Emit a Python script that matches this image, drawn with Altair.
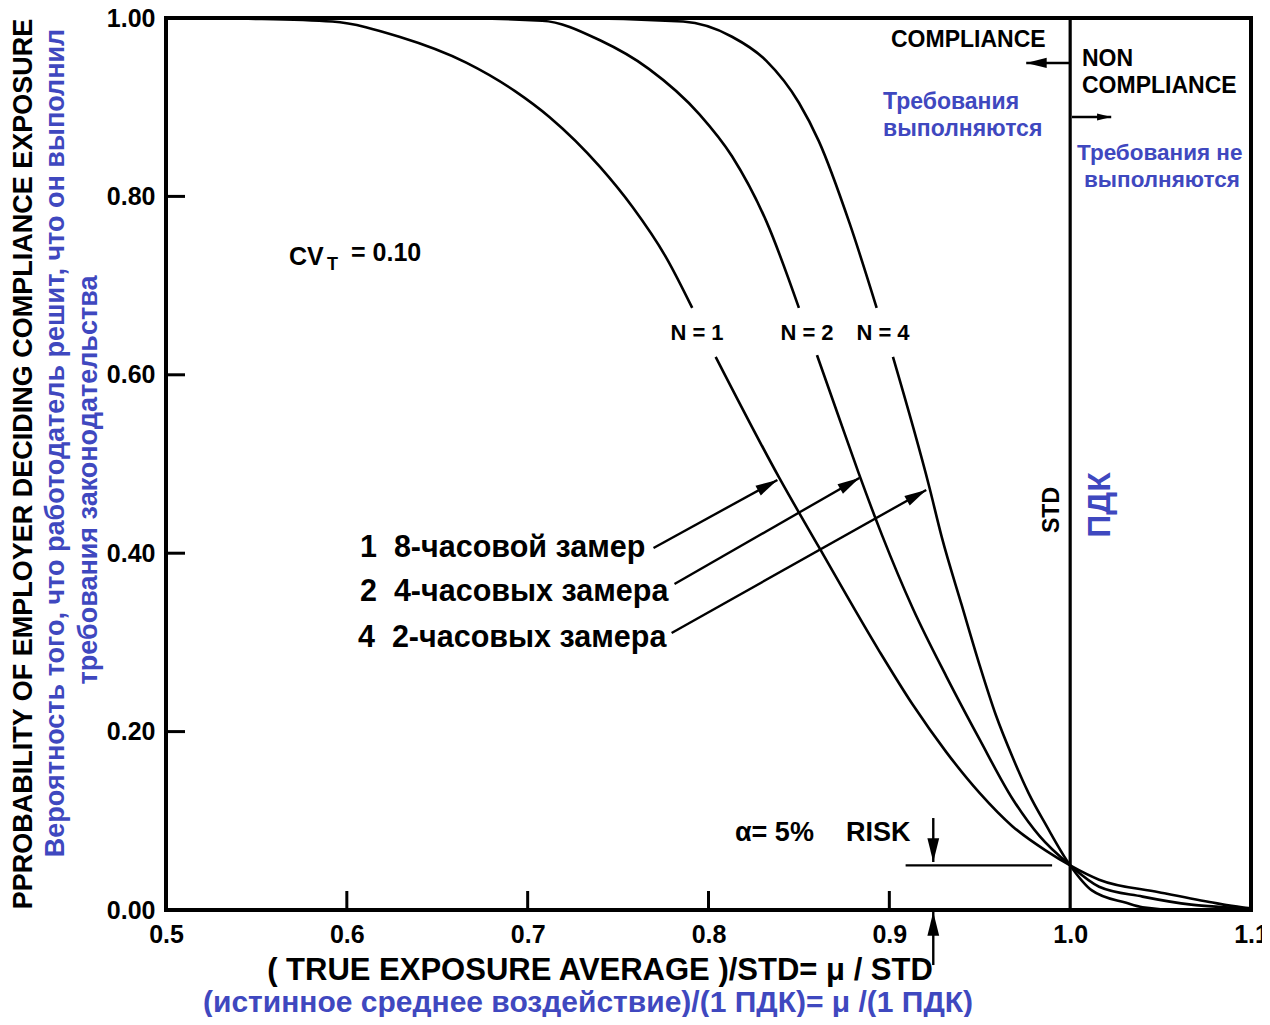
import math
import altair as alt
import pandas as pd

# ---------------- data ----------------
# N = 1 curve (upper part above its label, lower part below it)
n1_up_x = [0.50, 0.55, 0.592, 0.629, 0.666, 0.693, 0.712, 0.740, 0.758, 0.777, 0.791]
n1_up_p = [1.000, 0.999, 0.996, 0.979, 0.950, 0.918, 0.889, 0.833, 0.788, 0.730, 0.675]
n1_lo_x = [0.804, 0.839, 0.861, 0.8945, 0.913, 0.9315, 0.950, 0.968, 0.987, 1.000, 1.016, 1.049, 1.077, 1.095, 1.100]
n1_lo_p = [0.620, 0.485, 0.407, 0.290, 0.230, 0.177, 0.131, 0.094, 0.066, 0.050, 0.034, 0.020, 0.009, 0.003, 0.002]

# N = 2 curve
n2_up_x = [0.50, 0.65, 0.708, 0.740, 0.767, 0.795, 0.813, 0.832, 0.850]
n2_up_p = [1.000, 1.000, 0.997, 0.975, 0.943, 0.892, 0.845, 0.772, 0.675]
n2_lo_x = [0.860, 0.872, 0.883, 0.896, 0.913, 0.9315, 0.950, 0.968, 0.983, 1.000, 1.016, 1.040, 1.067, 1.086, 1.100]
n2_lo_p = [0.622, 0.553, 0.490, 0.420, 0.338, 0.262, 0.191, 0.125, 0.083, 0.050, 0.026, 0.015, 0.006, 0.003, 0.001]

# N = 4 curve
n4_up_x = [0.50, 0.72, 0.786, 0.813, 0.832, 0.850, 0.861, 0.878, 0.893]
n4_up_p = [1.000, 1.000, 0.996, 0.979, 0.952, 0.905, 0.862, 0.770, 0.675]
n4_lo_x = [0.902, 0.922, 0.929, 0.940, 0.950, 0.959, 0.968, 0.977, 0.987, 1.000, 1.012, 1.031, 1.040, 1.060, 1.100]
n4_lo_p = [0.620, 0.475, 0.418, 0.342, 0.274, 0.218, 0.172, 0.131, 0.094, 0.050, 0.022, 0.008, 0.003, 0.000, 0.000]

x_ticks = [0.6, 0.7, 0.8, 0.9]
y_ticks = [0.2, 0.4, 0.6, 0.8]
x_labels = [0.5, 0.6, 0.7, 0.8, 0.9, 1.0, 1.1]
y_labels = [0.0, 0.2, 0.4, 0.6, 0.8, 1.0]
std_value = [1.0]
alpha_level = [0.05]

# arrows: start x, start p, end (tip) x, end p, head size
arrow_x1 = [0.7696, 0.7812, 0.7796, 1.000, 1.001, 0.9243, 0.9243]
arrow_p1 = [0.4058, 0.3655, 0.3105, 0.9496, 0.889, 0.1031, -0.0617]
arrow_x2 = [0.8381, 0.8834, 0.9204, 0.9757, 1.0227, 0.9243, 0.9243]
arrow_p2 = [0.4821, 0.4843, 0.4709, 0.9496, 0.889, 0.0538, -0.0022]
arrow_sz = [484, 484, 484, 420, 200, 560, 560]

# ---------------- layout ----------------
W, H = 1085, 892
XD = [0.5, 1.1]
YD = [0.0, 1.0]
FONT = "Liberation Sans"
BLUE = "#3f48bf"

xscale = alt.Scale(domain=XD, nice=False, zero=False)
yscale = alt.Scale(domain=YD, nice=False, zero=False)
xaxis = alt.Axis(values=x_labels, format=".1f", ticks=False, domain=False, grid=False,
                 labelFont=FONT, labelFontWeight="bold", labelFontSize=25, labelColor="black",
                 labelPadding=12, labelFlush=False, labelOverlap=False, title=None)
yaxis = alt.Axis(values=y_labels, format=".2f", ticks=False, domain=False, grid=False,
                 labelFont=FONT, labelFontWeight="bold", labelFontSize=25, labelColor="black",
                 labelPadding=11, labelFlush=False, labelOverlap=False, title=None)


def X(field, **kw):
    return alt.X(field, type="quantitative", scale=xscale, axis=xaxis, **kw)


def Y(field, **kw):
    return alt.Y(field, type="quantitative", scale=yscale, axis=yaxis, **kw)


rows = []
for name, parts in [("N1", [(n1_up_x, n1_up_p), (n1_lo_x, n1_lo_p)]),
                    ("N2", [(n2_up_x, n2_up_p), (n2_lo_x, n2_lo_p)]),
                    ("N4", [(n4_up_x, n4_up_p), (n4_lo_x, n4_lo_p)])]:
    for si, (xs, ps) in enumerate(parts):
        for i, (xv, pv) in enumerate(zip(xs, ps)):
            rows.append({"seg": f"{name}_{si}", "x": xv, "p": pv, "i": i})
curves_df = pd.DataFrame(rows)

curves = alt.Chart(curves_df).mark_line(color="black", strokeWidth=2.6, interpolate="monotone").encode(
    x=X("x"), y=Y("p"), detail="seg:N", order="i:Q")

xt = alt.Chart(pd.DataFrame({"x": x_ticks})).mark_rule(color="black", strokeWidth=3).encode(
    x=X("x"), y=alt.value(H), y2=alt.value(H - 19))
yt = alt.Chart(pd.DataFrame({"p": y_ticks})).mark_rule(color="black", strokeWidth=3).encode(
    y=Y("p"), x=alt.value(0), x2=alt.value(19))

std_rule = alt.Chart(pd.DataFrame({"x": std_value})).mark_rule(color="black", strokeWidth=3.2).encode(
    x=X("x"), y=alt.value(0), y2=alt.value(H))

alpha_rule = alt.Chart(pd.DataFrame({"x": [0.909], "x2": [0.990], "p": alpha_level})).mark_rule(
    color="black", strokeWidth=2.4).encode(x=X("x"), x2="x2", y=Y("p"))

# arrows
adf = pd.DataFrame({"x1": arrow_x1, "p1": arrow_p1, "x2": arrow_x2, "p2": arrow_p2, "sz": arrow_sz})
px_per_x = W / (XD[1] - XD[0])
px_per_p = H / (YD[1] - YD[0])
adf["ang"] = [
    (math.degrees(math.atan2(-(b2 - b1) * px_per_p, (a2 - a1) * px_per_x)) + 360) % 360
    for a1, b1, a2, b2 in zip(adf.x1, adf.p1, adf.x2, adf.p2)
]
arrow_lines = alt.Chart(adf).mark_rule(color="black", strokeWidth=2.4).encode(
    x=X("x1"), y=Y("p1"), x2="x2", y2="p2")
arrow_heads = alt.Chart(adf).mark_point(
    shape="M0,0L-2,-0.5L-2,0.5Z", filled=True, color="black", opacity=1, strokeWidth=0).encode(
    x=X("x2"), y=Y("p2"), angle=alt.Angle("ang:Q", scale=None), size=alt.Size("sz:Q", scale=None))


def txt(text, px, py, size, color="black", align="left", angle=0):
    """Annotation text at page pixel position (px, py)."""
    return alt.Chart(pd.DataFrame({"t": [text]})).mark_text(
        font=FONT, fontWeight="bold", fontSize=size, color=color, align=align,
        baseline="middle", angle=angle).encode(
        text="t:N", x=alt.value(px - 166), y=alt.value(py - 18))


NB = "\u00a0"
texts = [
    txt("CV", 289, 257, 25),
    txt("T", 327, 265, 18),
    txt("= 0.10", 351, 253, 25),
    txt("COMPLIANCE", 891, 40, 23),
    txt("NON", 1082, 59, 23),
    txt("COMPLIANCE", 1082, 86, 23),
    txt("Требования", 883, 102, 23, BLUE),
    txt("выполняются", 883, 129, 23, BLUE),
    txt("Требования не", 1077, 153, 22.5, BLUE),
    txt("выполняются", 1084, 180, 22.5, BLUE),
    txt("N = 1", 697, 333, 22, align="center"),
    txt("N = 2", 807, 333, 22, align="center"),
    txt("N = 4", 883, 333, 22, align="center"),
    txt("1" + NB + NB + "8-часовой замер", 360, 548, 30.5),
    txt("2" + NB + NB + "4-часовых замера", 360, 592, 30.5),
    txt("4" + NB + NB + "2-часовых замера", 358, 638, 30.5),
    txt("STD", 1052, 510, 23, align="center", angle=270),
    txt("ПДК", 1100, 505, 32, BLUE, align="center", angle=270),
    txt("α= 5%", 735, 833, 27),
    txt("RISK", 846, 833, 27),
    txt("( TRUE EXPOSURE AVERAGE )/STD= μ / STD", 600, 971, 31, align="center"),
    txt("(истинное среднее воздействие)/(1 ПДК)= μ /(1 ПДК)", 588, 1003, 30, BLUE, align="center"),
    txt("PPROBABILITY OF EMPLOYER DECIDING COMPLIANCE EXPOSURE", 24, 464, 27, align="center", angle=270),
    txt("Вероятность того, что работодатель решит, что он выполнил", 56, 443, 27, BLUE,
        align="center", angle=270),
    txt("требования законодательства", 89, 480, 27, BLUE, align="center", angle=270),
]

chart = alt.layer(curves, xt, yt, std_rule, alpha_rule, arrow_lines, arrow_heads, *texts).properties(
    width=W, height=H,
    padding={"left": 158, "top": 10, "right": 11, "bottom": 107},
    autosize=alt.AutoSizeParams(type="none"),
    background="white",
).configure_view(stroke="black", strokeWidth=4)

chart.save("out.html", embed_options={"renderer": "svg", "actions": False})
